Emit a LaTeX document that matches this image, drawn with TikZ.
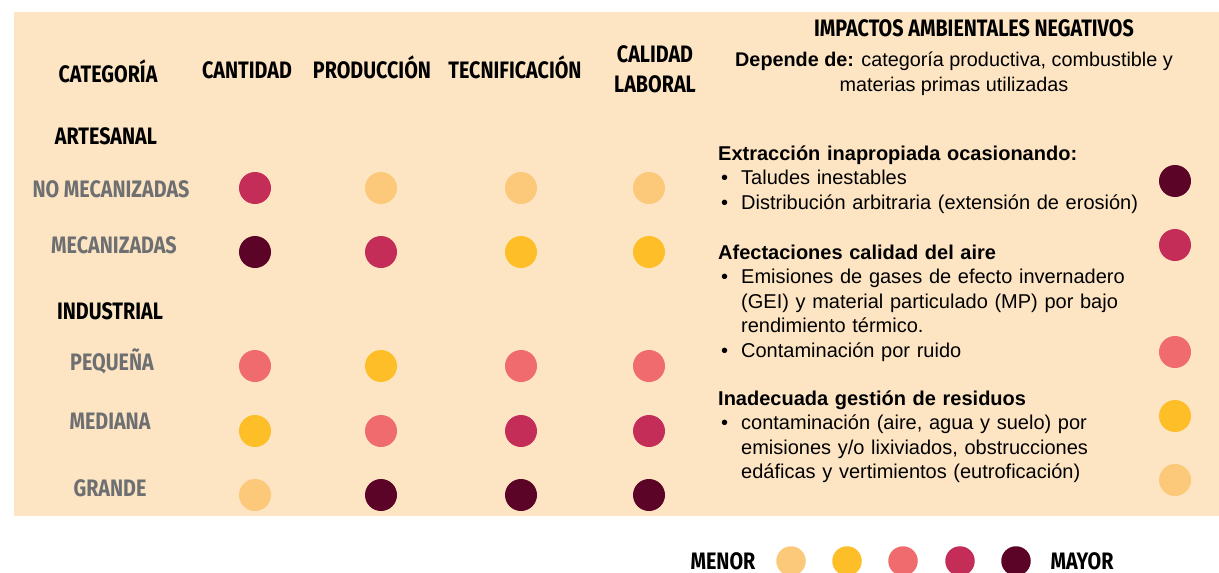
\documentclass[tikz,border=0pt]{standalone}
\usepackage{fontspec}
\setmainfont{Liberation Sans}
\newfontfamily\headfont[FakeStretch=0.83]{Fira Sans}
\definecolor{bgbeige}{HTML}{FDE5C4}
\definecolor{labgray}{HTML}{6D6F71}
\definecolor{lvlA}{HTML}{FCC97B}
\definecolor{lvlB}{HTML}{FDBE27}
\definecolor{lvlC}{HTML}{F06B6D}
\definecolor{lvlD}{HTML}{C52D59}
\definecolor{lvlE}{HTML}{5C0428}
\newcommand\bul{\hspace*{3pt}\makebox[20pt][l]{\textbullet}}
\newcommand\cnt{\hspace*{23pt}}

\begin{document}
\begin{tikzpicture}[x=1pt,y=-1pt,
	head/.style={anchor=base,inner sep=0pt,font=\headfont\bfseries\fontsize{23.8}{26}\selectfont},
	rowlab/.style={head,text=labgray},
	dot/.style={circle,inner sep=0pt,minimum size=32pt},
	keydot/.style={circle,inner sep=0pt,minimum size=29.5pt},
	body/.style={anchor=base west,inner sep=0pt,text width=480pt,align=left,font=\fontsize{20}{24.5}\selectfont}]
	\useasboundingbox (0,0) rectangle (1219,573);
	\fill[bgbeige] (14,12) rectangle (1219,516);
	\node[head] (categoria) at (108,82) {CATEGORÍA};
	\node[head] (cantidad) at (247,78) {CANTIDAD};
	\node[head] (produccion) at (372,78) {PRODUCCIÓN};
	\node[head] (tecnif) at (515,78) {TECNIFICACIÓN};
	\node[head] (calidad) at (655,62) {CALIDAD};
	\node[head] (laboral) at (655,92) {LABORAL};
	\node[head] (impactos) at (974,36) {IMPACTOS AMBIENTALES NEGATIVOS};
	\node[anchor=base,inner sep=0pt,font=\fontsize{19.8}{24}\selectfont] (depende) at (954,66) {\textbf{Depende de:} categoría productiva, combustible y};
	\node[anchor=base,inner sep=0pt,font=\fontsize{19.8}{24}\selectfont] (materias) at (954,91) {materias primas utilizadas};
	\node[head] (artesanal) at (106,144) {ARTESANAL};
	\node[rowlab] (nomec) at (111,197) {NO MECANIZADAS};
	\node[rowlab] (mec) at (114,253) {MECANIZADAS};
	\node[head] (industrial) at (110,319) {INDUSTRIAL};
	\node[rowlab] (pequena) at (112,370) {PEQUEÑA};
	\node[rowlab] (mediana) at (110,429) {MEDIANA};
	\node[rowlab] (grande) at (110,496) {GRANDE};
	\foreach \row/\y/\ca/\cb/\cc/\cd in {1/188/lvlD/lvlA/lvlA/lvlA, 2/252/lvlE/lvlD/lvlB/lvlB, 3/366/lvlC/lvlB/lvlC/lvlC, 4/431/lvlB/lvlC/lvlD/lvlD, 5/495/lvlA/lvlE/lvlE/lvlE}{
		\node[dot,fill=\ca] (d\row a) at (255,\y) {};
		\node[dot,fill=\cb] (d\row b) at (381,\y) {};
		\node[dot,fill=\cc] (d\row c) at (521,\y) {};
		\node[dot,fill=\cd] (d\row d) at (649,\y) {};
	}
	\node[body] (extraccion) at (718,160) {\textbf{Extracción inapropiada ocasionando:}\\
		\bul Taludes inestables\\
		\bul Distribución arbitraria (extensión de erosión)};
	\node[body] (aire) at (718,259) {\textbf{Afectaciones calidad del aire}\\
		\bul Emisiones de gases de efecto invernadero\\
		\cnt (GEI) y material particulado (MP) por bajo\\
		\cnt rendimiento térmico.\\
		\bul Contaminación por ruido};
	\node[body] (residuos) at (718,405) {\textbf{Inadecuada gestión de residuos}\\
		\bul contaminación (aire, agua y suelo) por\\
		\cnt emisiones y/o lixiviados, obstrucciones\\
		\cnt edáficas y vertimientos (eutroficación)};
	\node[dot,fill=lvlE] (imp1) at (1175,181) {};
	\node[dot,fill=lvlD] (imp2) at (1175,245) {};
	\node[dot,fill=lvlC] (imp3) at (1175,352) {};
	\node[dot,fill=lvlB] (imp4) at (1175,416) {};
	\node[dot,fill=lvlA] (imp5) at (1175,480) {};
	\node[head] (menor) at (723,569) {MENOR};
	\node[keydot,fill=lvlA] (k1) at (791,561) {};
	\node[keydot,fill=lvlB] (k2) at (847,561) {};
	\node[keydot,fill=lvlC] (k3) at (903,561) {};
	\node[keydot,fill=lvlD] (k4) at (960,561) {};
	\node[keydot,fill=lvlE] (k5) at (1016,561) {};
	\node[head] (mayor) at (1082,569) {MAYOR};
\end{tikzpicture}
\end{document}
